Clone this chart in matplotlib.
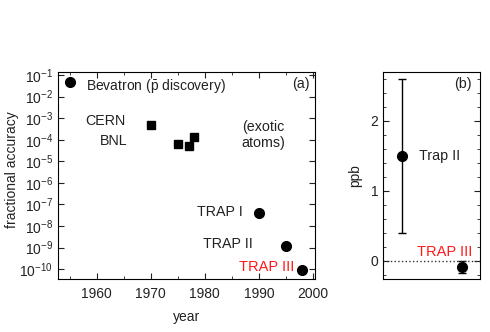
import matplotlib
matplotlib.use("Agg")
import matplotlib.pyplot as plt
from matplotlib.ticker import LogLocator, FixedLocator, MultipleLocator, NullLocator

plt.rcParams['font.family'] = ['Liberation Sans', 'DejaVu Sans']
plt.rcParams['mathtext.fontset'] = 'custom'
plt.rcParams['mathtext.rm'] = 'Liberation Sans'
plt.rcParams['mathtext.it'] = 'Liberation Sans:italic'
plt.rcParams['mathtext.bf'] = 'Liberation Sans:bold'
plt.rcParams['mathtext.sf'] = 'Liberation Sans'
plt.rcParams['font.size'] = 10

# Panel (a) data
circle_years = [1955, 1990, 1995, 1998]
circle_acc = [5e-2, 4e-8, 1.2e-9, 9e-11]
square_years = [1970, 1975, 1977, 1978]
square_acc = [5e-4, 6e-5, 5e-5, 1.4e-4]

# Panel (b) data
b_labels = ["Trap II", "TRAP III"]
b_pos = [0.2, 0.81]
b_val = [1.5, -0.09]
b_err = [1.1, 0.09]

W, H = 490, 332
fig = plt.figure(figsize=(W/100, H/100), dpi=100)

def box(l, t, r, b):
    return [l/W, 1 - b/H, (r-l)/W, (b-t)/H]

ax = fig.add_axes(box(58, 72, 315, 279))
ax.set_yscale('log')
ax.plot(circle_years, circle_acc, 'o', color='black', ms=7, ls='none')
ax.plot(square_years, square_acc, 's', color='black', ms=6, ls='none')
ax.set_xlim(1952.8, 2000.4)
ax.set_ylim(10**-10.46, 10**-0.86)
ax.yaxis.set_major_locator(LogLocator(base=10, numticks=20))
ax.yaxis.set_minor_locator(NullLocator())
ax.xaxis.set_major_locator(FixedLocator([1960, 1970, 1980, 1990, 2000]))
ax.xaxis.set_minor_locator(MultipleLocator(5))
ax.tick_params(which='both', direction='in', top=True, right=True, labelsize=10, colors='#222222')
ax.tick_params(which='major', length=4)
ax.tick_params(which='minor', length=2.5)
ax.tick_params(axis='x', pad=6)
ax.set_xlabel('year', fontsize=10, labelpad=6, color='#222222')
ax.set_ylabel('fractional accuracy', fontsize=10, color='#222222', labelpad=0)
ax.yaxis.set_label_coords(-0.15, 0.53)

tc = '#222222'
ax.text(1958.0, 3.2e-2, r'Bevatron ($\bar{\mathrm{p}}$ discovery)', va='center', ha='left', color=tc, fontsize=10)
ax.text(0.98, 0.94, '(a)', transform=ax.transAxes, ha='right', va='center', color=tc, fontsize=10.3)
ax.text(1957.8, 7.4e-4, 'CERN', ha='left', va='center', color=tc, fontsize=10.3)
ax.text(1960.6, 8.7e-5, 'BNL', ha='left', va='center', color=tc, fontsize=10.3)
ax.text(1990.8, 1.66e-4, '(exotic\natoms)', ha='center', va='center', color=tc, linespacing=1.1, fontsize=10.3)
ax.text(1987.1, 4.5e-8, 'TRAP I', ha='right', va='center', color=tc, fontsize=10.3)
ax.text(1988.9, 1.5e-9, 'TRAP II', ha='right', va='center', color=tc, fontsize=10.3)
ax.text(1996.5, 1.3e-10, 'TRAP III', ha='right', va='center', color='#ff1a1a', fontsize=10.5)

bx = fig.add_axes(box(383, 72, 480, 279))
bx.errorbar(b_pos, b_val, yerr=b_err, fmt='o', color='black', ms=7, capsize=3, elinewidth=1, capthick=1)
bx.axhline(0, color='#333333', ls=':', lw=1)
bx.set_xlim(0, 1)
bx.set_ylim(-0.26, 2.7)
bx.xaxis.set_major_locator(NullLocator())
bx.yaxis.set_major_locator(FixedLocator([0, 1, 2]))
bx.yaxis.set_minor_locator(MultipleLocator(0.2))
bx.tick_params(which='both', direction='in', right=True, labelsize=10, colors='#222222')
bx.tick_params(which='major', length=4)
bx.tick_params(which='minor', length=2.5)
bx.set_ylabel('ppb', fontsize=10, color='#222222', labelpad=6)
bx.text(0.92, 0.94, '(b)', transform=bx.transAxes, ha='right', va='center', color=tc, fontsize=10.3)
bx.text(0.37, 1.5, 'Trap II', ha='left', va='center', color=tc, fontsize=10.3)
bx.text(0.35, 0.12, 'TRAP III', ha='left', va='center', color='#ff1a1a', fontsize=10.5)

fig.savefig('out.png', dpi=100)
